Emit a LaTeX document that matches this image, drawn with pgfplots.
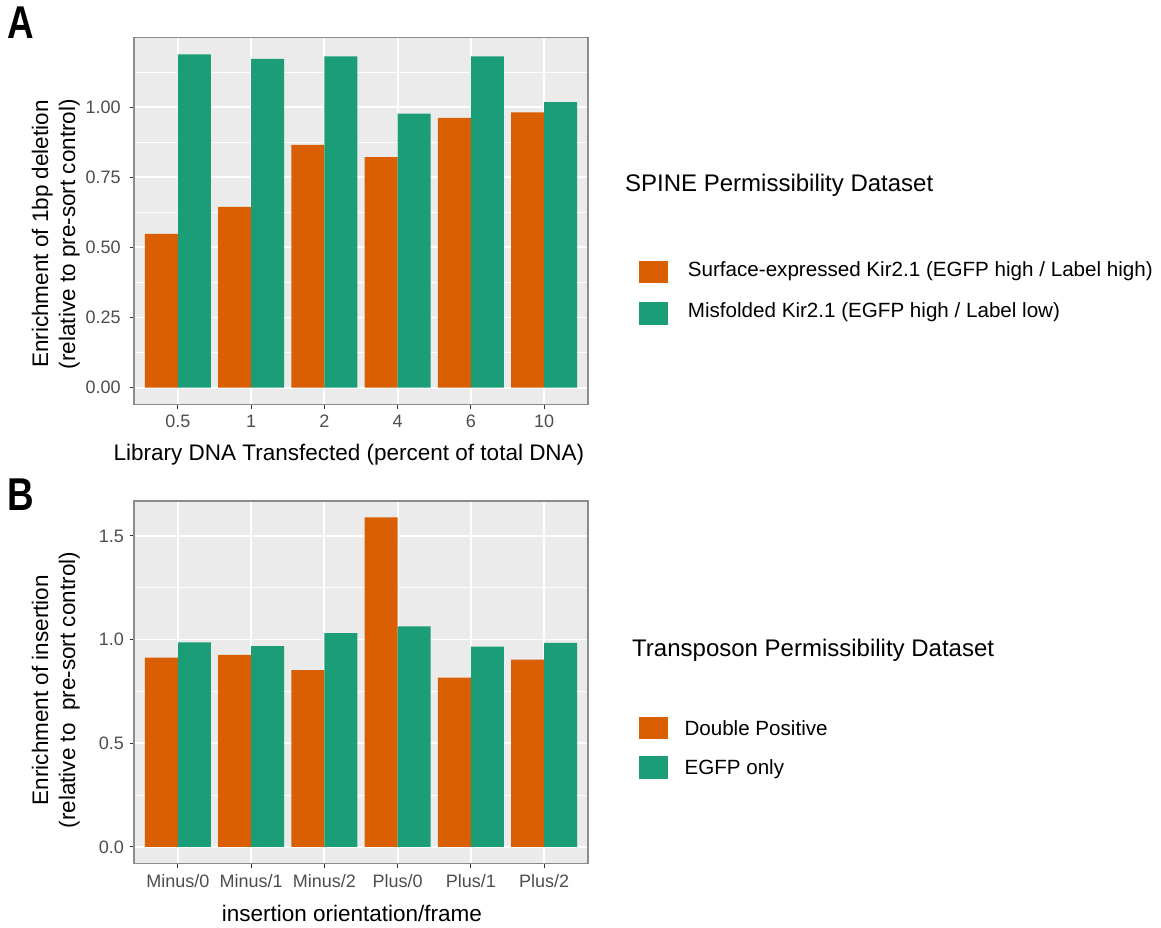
\documentclass[border=0pt]{standalone}
\usepackage{fontspec}
\setmainfont{Liberation Sans}
\usepackage{graphicx}
\usepackage{pgfplots}
\pgfplotsset{compat=1.18}
\definecolor{orangeC}{HTML}{D95F02}
\definecolor{greenC}{HTML}{1B9E77}
\definecolor{ggbg}{HTML}{EBEBEB}
\definecolor{tickgray}{HTML}{333333}
\definecolor{labgray}{HTML}{4D4D4D}
\definecolor{bordergray}{HTML}{8C8C8C}
\newcommand\tickfont{\fontsize{18}{18}\selectfont}
\newcommand\titlefont{\fontsize{22.5}{27}\selectfont}
\newcommand\legtitlefont{\fontsize{24}{28}\selectfont}
\newcommand\legfont{\fontsize{20.6}{24}\selectfont}
\newcommand\panelfont{\fontsize{46}{46}\selectfont\bfseries}
\pgfplotsset{ggstyle/.style={
  scale only axis, width=454pt,
  axis background/.style={fill=ggbg},
  axis line style={draw=bordergray, line width=1.1pt},
  enlargelimits=false,
  xmin=0.4, xmax=6.6,
  xtick={1,2,3,4,5,6},
  tick pos=left, tick align=outside,
  major tick length=4.5pt,
  major tick style={draw=tickgray, line width=1.1pt},
  minor tick length=0pt,
  xmajorgrids, ymajorgrids, yminorgrids,
  major grid style={white, line width=1.8pt},
  minor grid style={white, line width=0.9pt},
  xticklabel style={font=\tickfont, text=labgray, anchor=base, inner sep=0pt},
  yticklabel style={font=\tickfont, text=labgray, anchor=east, inner sep=0pt},
  label style={font=\titlefont, text=black},
  ylabel style={align=center},
}}
\begin{document}
\begin{tikzpicture}
\path (0pt,0pt) rectangle (1161pt,-928pt);
% Panel A
\begin{axis}[ggstyle,
  at={(134pt,-404.3pt)}, anchor=south west, height=366.6pt,
  ymin=-0.0594, ymax=1.2474,
  ytick={0,0.25,0.5,0.75,1}, yticklabels={0.00,0.25,0.50,0.75,1.00},
  minor ytick={0.125,0.375,0.625,0.875,1.125},
  xticklabels={0.5,1,2,4,6,10},
  xticklabel style={yshift=-18.5pt},
  yticklabel style={xshift=-8.6pt},
  xlabel={Library DNA Transfected (percent of total DNA)},
  xlabel style={at={(axis description cs:0.4736,-0.152)}, anchor=base},
  ylabel={Enrichment of 1bp deletion\\(relative to pre-sort control)},
  ylabel style={at={(axis description cs:-0.1722,0.4645)}, anchor=center},
]
\addplot[ybar, bar width=0.45, bar shift=-0.225, fill=orangeC, draw=none]
  coordinates {(1,0.548) (2,0.644) (3,0.865) (4,0.822) (5,0.962) (6,0.981)};
\addplot[ybar, bar width=0.45, bar shift=0.225, fill=greenC, draw=none]
  coordinates {(1,1.188) (2,1.172) (3,1.181) (4,0.977) (5,1.181) (6,1.018)};
\end{axis}
% Panel B
\begin{axis}[ggstyle,
  at={(134pt,-863.3pt)}, anchor=south west, height=362.3pt,
  ymin=-0.07945, ymax=1.66845,
  ytick={0,0.5,1,1.5}, yticklabels={0.0,0.5,1.0,1.5},
  minor ytick={0.25,0.75,1.25},
  xticklabels={Minus/0,Minus/1,Minus/2,Plus/0,Plus/1,Plus/2},
  xticklabel style={yshift=-20pt},
  yticklabel style={xshift=-5.5pt},
  xlabel={insertion orientation/frame},
  xlabel style={at={(axis description cs:0.480,-0.161)}, anchor=base},
  ylabel={Enrichment of insertion\\(relative to\ \ pre-sort control)},
  ylabel style={at={(axis description cs:-0.1722,0.478)}, anchor=center},
]
\addplot[ybar, bar width=0.45, bar shift=-0.225, fill=orangeC, draw=none]
  coordinates {(1,0.913) (2,0.926) (3,0.853) (4,1.589) (5,0.816) (6,0.903)};
\addplot[ybar, bar width=0.45, bar shift=0.225, fill=greenC, draw=none]
  coordinates {(1,0.986) (2,0.968) (3,1.031) (4,1.064) (5,0.966) (6,0.984)};
\end{axis}
% Panel letters
\node[anchor=base west, inner sep=0pt] at (7pt,-38.3pt) {\panelfont\scalebox{0.8}[1]{A}};
\node[anchor=base west, inner sep=0pt] at (7pt,-510pt) {\panelfont\scalebox{0.8}[1]{B}};
% Legend A
\node[anchor=base west, inner sep=0pt, font=\legtitlefont] at (625pt,-191.7pt) {SPINE Permissibility Dataset};
\fill[orangeC] (638.5pt,-260.7pt) rectangle (667.5pt,-283.3pt);
\fill[greenC] (638.5pt,-302pt) rectangle (667.5pt,-324.7pt);
\node[anchor=base west, inner sep=0pt, font=\legfont] at (687.7pt,-276.7pt) {Surface-expressed Kir2.1 (EGFP high / Label high)};
\node[anchor=base west, inner sep=0pt, font=\legfont] at (687.7pt,-317.3pt) {Misfolded Kir2.1 (EGFP high / Label low)};
% Legend B
\node[anchor=base west, inner sep=0pt, font=\legtitlefont] at (632pt,-656pt) {Transposon Permissibility Dataset};
\fill[orangeC] (638.5pt,-716.7pt) rectangle (667.5pt,-739pt);
\fill[greenC] (638.5pt,-756pt) rectangle (667.5pt,-779pt);
\node[anchor=base west, inner sep=0pt, font=\legfont] at (684.3pt,-735pt) {Double Positive};
\node[anchor=base west, inner sep=0pt, font=\legfont] at (684.3pt,-774.3pt) {EGFP only};
\end{tikzpicture}
\end{document}
